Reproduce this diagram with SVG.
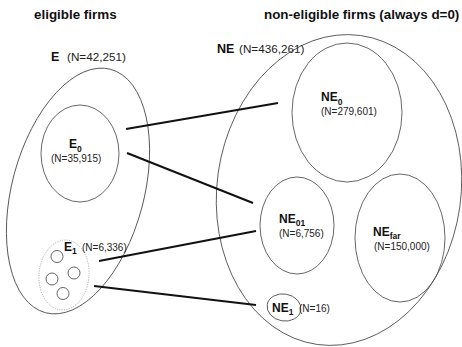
<svg xmlns="http://www.w3.org/2000/svg" width="462" height="347" viewBox="0 0 462 347">
<style>
.hd{font-family:"Liberation Sans",Arial,sans-serif;font-weight:bold;font-size:13.4px;fill:#111}
.lb{font-family:"Liberation Sans",Arial,sans-serif;font-weight:bold;font-size:12px;fill:#111}
.big{font-size:12.5px}
.sub{font-size:8.5px}
.n{font-family:"Liberation Sans",Arial,sans-serif;font-size:10px;fill:#222}
.nb{font-size:11.7px}
.sh{fill:none;stroke:#555;stroke-width:0.9}
.dot{fill:none;stroke:#999;stroke-width:0.9;stroke-dasharray:1 1.4}
.conn{stroke:#111;stroke-width:2;fill:none}
</style>
<rect width="462" height="347" fill="#fff"/>
<text class="hd" x="34" y="19">eligible firms</text>
<text class="hd" x="264" y="19">non-eligible firms (always d=0)</text>

<g id="E">
<ellipse class="sh" cx="78" cy="191" rx="66" ry="126" transform="rotate(15 78 191)"/>
<text class="lb big" x="51" y="61">E</text>
<text class="n nb" x="67" y="61">(N=42,251)</text>
</g>
<g id="E0">
<ellipse class="sh" cx="80" cy="153.5" rx="39" ry="48.5"/>
<text class="lb" x="69" y="148">E<tspan class="sub" dy="3.5">0</tspan></text>
<text class="n" x="51" y="162">(N=35,915)</text>
</g>
<g id="E1">
<ellipse class="dot" cx="64" cy="275" rx="25" ry="35" transform="rotate(5 64 275)"/>
<circle class="sh" cx="57" cy="256.5" r="6"/>
<circle class="sh" cx="74" cy="273" r="6"/>
<circle class="sh" cx="52" cy="279" r="6"/>
<circle class="sh" cx="63" cy="293.5" r="6"/>
<text class="lb" x="64" y="251">E<tspan class="sub" dy="3">1</tspan></text>
<text class="n" x="82" y="251">(N=6,336)</text>
</g>

<g id="NE">
<ellipse class="sh" cx="339" cy="190" rx="122" ry="156" transform="rotate(8 339 190)"/>
<text class="lb big" x="217" y="53">NE</text>
<text class="n nb" x="239" y="53">(N=436,261)</text>
</g>
<g id="NE0">
<ellipse class="sh" cx="347" cy="112.5" rx="55" ry="69.5"/>
<text class="lb" x="321" y="101">NE<tspan class="sub" dy="3.5">0</tspan></text>
<text class="n" x="321" y="115">(N=279,601)</text>
</g>
<g id="NE01">
<ellipse class="sh" cx="297" cy="225.5" rx="37" ry="48.5"/>
<text class="lb" x="279" y="223">NE<tspan class="sub" dy="3">01</tspan></text>
<text class="n" x="279" y="237">(N=6,756)</text>
</g>
<g id="NEfar">
<ellipse class="sh" cx="400" cy="238" rx="45" ry="64"/>
<text class="lb" x="373" y="236">NE<tspan class="sub" dy="3">far</tspan></text>
<text class="n" x="374" y="250">(N=150,000)</text>
</g>
<g id="NE1">
<ellipse class="sh" cx="284" cy="307.5" rx="17" ry="13.5" transform="rotate(10 284 307.5)"/>
<text class="lb" x="272" y="312">NE<tspan class="sub" dy="3">1</tspan></text>
<text class="n" x="299" y="312">(N=16)</text>
</g>

<g id="connectors">
<line class="conn" x1="126" y1="129" x2="278" y2="103"/>
<line class="conn" x1="127" y1="153" x2="253" y2="203"/>
<line class="conn" x1="99" y1="261" x2="256" y2="231"/>
<line class="conn" x1="94" y1="286" x2="256" y2="305"/>
</g>
</svg>
